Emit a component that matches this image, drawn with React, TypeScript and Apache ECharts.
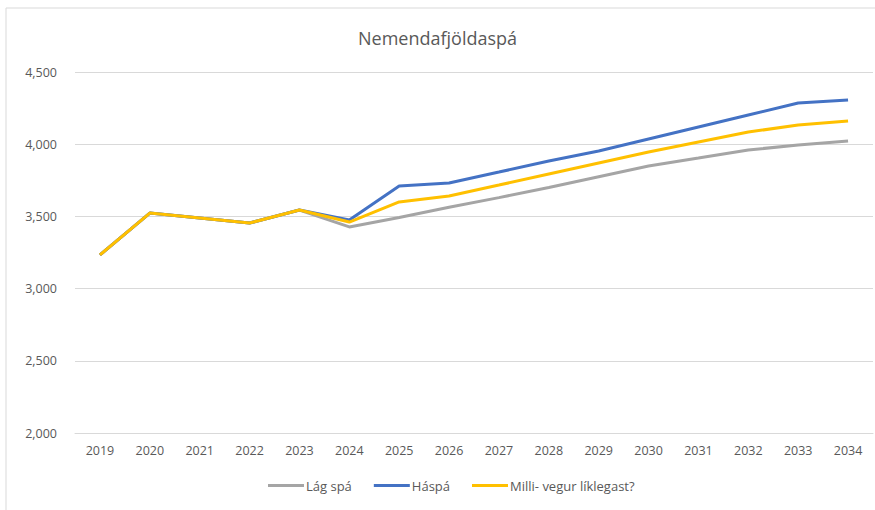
import React, { useEffect, useRef } from "react";
import * as echarts from "echarts";

const years = ["2019","2020","2021","2022","2023","2024","2025","2026","2027","2028","2029","2030","2031","2032","2033","2034"];
const lowForecast = [3233, 3523, 3489, 3454, 3544, 3427, 3492, 3563, 3630, 3700, 3775, 3849, 3904, 3960, 3994, 4022];
const highForecast = [3233, 3523, 3489, 3454, 3544, 3475, 3711, 3731, 3807, 3884, 3953, 4036, 4119, 4202, 4285, 4306];
const midForecast = [3233, 3523, 3489, 3454, 3544, 3461, 3600, 3641, 3717, 3794, 3870, 3946, 4015, 4084, 4133, 4161];
const seriesNames = ["Lág spá", "Háspá", "Milli- vegur líklegast?"];
const colors = ["#A5A5A5", "#4472C4", "#FFC000"];

const FONT = "'Open Sans', 'Liberation Sans', sans-serif";

export default function App() {
  const ref = useRef<HTMLDivElement>(null);
  useEffect(() => {
    if (!ref.current) return;
    const chart = echarts.init(ref.current, null, { renderer: "svg" });
    const data = [lowForecast, highForecast, midForecast];
    chart.setOption({
      animation: false,
      backgroundColor: "#ffffff",
      title: {
        text: "Nemendafjöldaspá",
        left: "center",
        top: 24,
        textStyle: { fontFamily: FONT, fontSize: 18, fontWeight: "normal", color: "#595959" },
      },
      graphic: [
        {
          type: "rect",
          shape: { x: 6, y: 8, width: 880, height: 520 },
          style: { fill: "none", stroke: "#d9d9d9", lineWidth: 1 },
          silent: true,
          z: -1,
        },
      ],
      grid: { left: 75, right: 2, top: 72, bottom: 77 },
      legend: {
        bottom: 13,
        left: 263,
        icon: "rect",
        itemWidth: 36,
        itemHeight: 3,
        itemGap: 22,
        textStyle: { fontFamily: FONT, fontSize: 13, color: "#595959", padding: [0, 0, 0, -3] },
        data: seriesNames,
      },
      xAxis: {
        type: "category",
        data: years,
        boundaryGap: true,
        axisLine: { lineStyle: { color: "#d9d9d9" } },
        axisTick: { show: false },
        axisLabel: { fontFamily: FONT, fontSize: 12.5, color: "#595959", margin: 11 },
      },
      yAxis: {
        type: "value",
        min: 2000,
        max: 4500,
        interval: 500,
        axisLine: { show: false },
        axisTick: { show: false },
        splitLine: { lineStyle: { color: "#d9d9d9" } },
        axisLabel: {
          fontFamily: FONT,
          fontSize: 12.5,
          color: "#595959",
          margin: 18,
          formatter: (v: number) => v.toLocaleString("en-US"),
        },
      },
      series: seriesNames.map((name, i) => ({
        name,
        type: "line",
        data: data[i],
        showSymbol: false,
        symbol: "none",
        color: colors[i],
        lineStyle: { width: 3, color: colors[i] },
        z: 2 + i,
      })),
    });
    return () => chart.dispose();
  }, []);
  return (
    <div
      ref={ref}
      style={{ position: "fixed", left: 0, top: 0, width: 875, height: 510 }}
    />
  );
}
